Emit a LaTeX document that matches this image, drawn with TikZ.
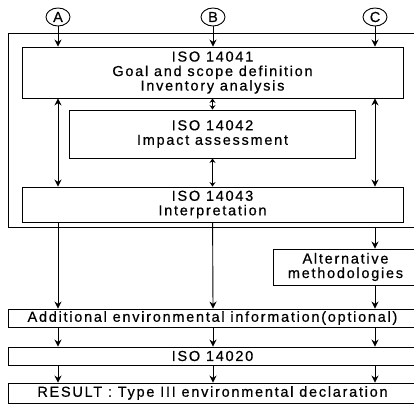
\documentclass[tikz,border=0pt]{standalone}
\usepackage{fontspec}
\newfontfamily\isofont{Liberation Sans}[LetterSpace=12, FakeBold=0.6]
\usepackage{tikz}
\usetikzlibrary{shapes,arrows,arrows.meta}
\tikzstyle{stage} = [rectangle, draw, text centered, align=center,
	inner sep=0pt, line width=0.9pt]
\tikzstyle{tag} = [ellipse, draw, minimum width=24pt, minimum height=18pt,
	inner sep=0pt, line width=0.9pt]
\tikzstyle{frame} = [rectangle, draw, inner sep=0pt, line width=0.9pt]
\tikzstyle{line} = [draw, line width=0.9pt, -{Stealth[length=7pt,width=7pt]}]
\tikzstyle{both} = [draw, line width=0.9pt,
	{Stealth[length=7pt,width=7pt]}-{Stealth[length=7pt,width=7pt]}]
\tikzstyle{short both} = [draw, line width=0.9pt,
	{Stealth[length=4.5pt,width=6pt]}-{Stealth[length=4.5pt,width=6pt]}]

\begin{document}
\begin{tikzpicture}[x=1pt, y=-1pt, font=\isofont\fontsize{14.5}{14.5}\selectfont]
	\useasboundingbox (0,0) rectangle (414,417);
	\clip (0,0) rectangle (414,417);

	% Place nodes
	\node [tag] (A) at (58,17) {A};
	\node [tag, right of=A, node distance=155pt] (B) {B};
	\node [tag, right of=B, node distance=162pt] (C) {C};
	\node [frame, minimum width=412pt, minimum height=194pt] (LCA) at (214,130) {};
	\node [stage, minimum width=381pt, minimum height=51pt] (iso41) at (212.5,72.5)
		{ISO 14041\\Goal and scope definition\\Inventory analysis};
	\node [stage, below of=iso41, node distance=61.5pt, minimum width=286pt,
		minimum height=48pt] (iso42) {ISO 14042\\Impact assessment};
	\node [stage, below of=iso42, node distance=70.5pt, minimum width=381pt,
		minimum height=35pt] (iso43) {ISO 14043\\Interpretation};
	\node [stage, minimum width=145pt, minimum height=36pt] (alt) at (345.5,267)
		{Alternative\\methodologies};
	\node [stage, below of=iso43, node distance=113.5pt, minimum width=408pt,
		minimum height=18pt] (addinfo) {Additional environmental information(optional)};
	\node [stage, below of=addinfo, node distance=38pt, minimum width=408pt,
		minimum height=18pt] (iso20) {ISO 14020};
	\node [stage, below of=iso20, node distance=37pt, minimum width=408pt,
		minimum height=20pt] (result) {RESULT : Type III environmental declaration};

	% Draw edges
	\path [line] (A) -- (A |- iso41.north);
	\path [line] (B) -- (B |- iso41.north);
	\path [line] (C) -- (C |- iso41.north);
	\path [short both] (iso41) -- (iso42);
	\path [short both] (iso42) -- (iso43);
	\path [both] (A |- iso41.south) -- (A |- iso43.north);
	\path [both] (C |- iso41.south) -- (C |- iso43.north);
	\path [line] (LCA.south -| C) -- (C |- alt.north);
	\path [line] (A |- iso43.south) -- (A |- addinfo.north);
	\path [line] (iso43) -- (B |- addinfo.north);
	\path [line] (C |- alt.south) -- (C |- addinfo.north);
	\path [line] (A |- addinfo.south) -- (A |- iso20.north);
	\path [line] (B |- addinfo.south) -- (B |- iso20.north);
	\path [line] (C |- addinfo.south) -- (C |- iso20.north);
	\path [line] (A |- iso20.south) -- (A |- result.north);
	\path [line] (B |- iso20.south) -- (B |- result.north);
	\path [line] (C |- iso20.south) -- (C |- result.north);
\end{tikzpicture}
\end{document}
